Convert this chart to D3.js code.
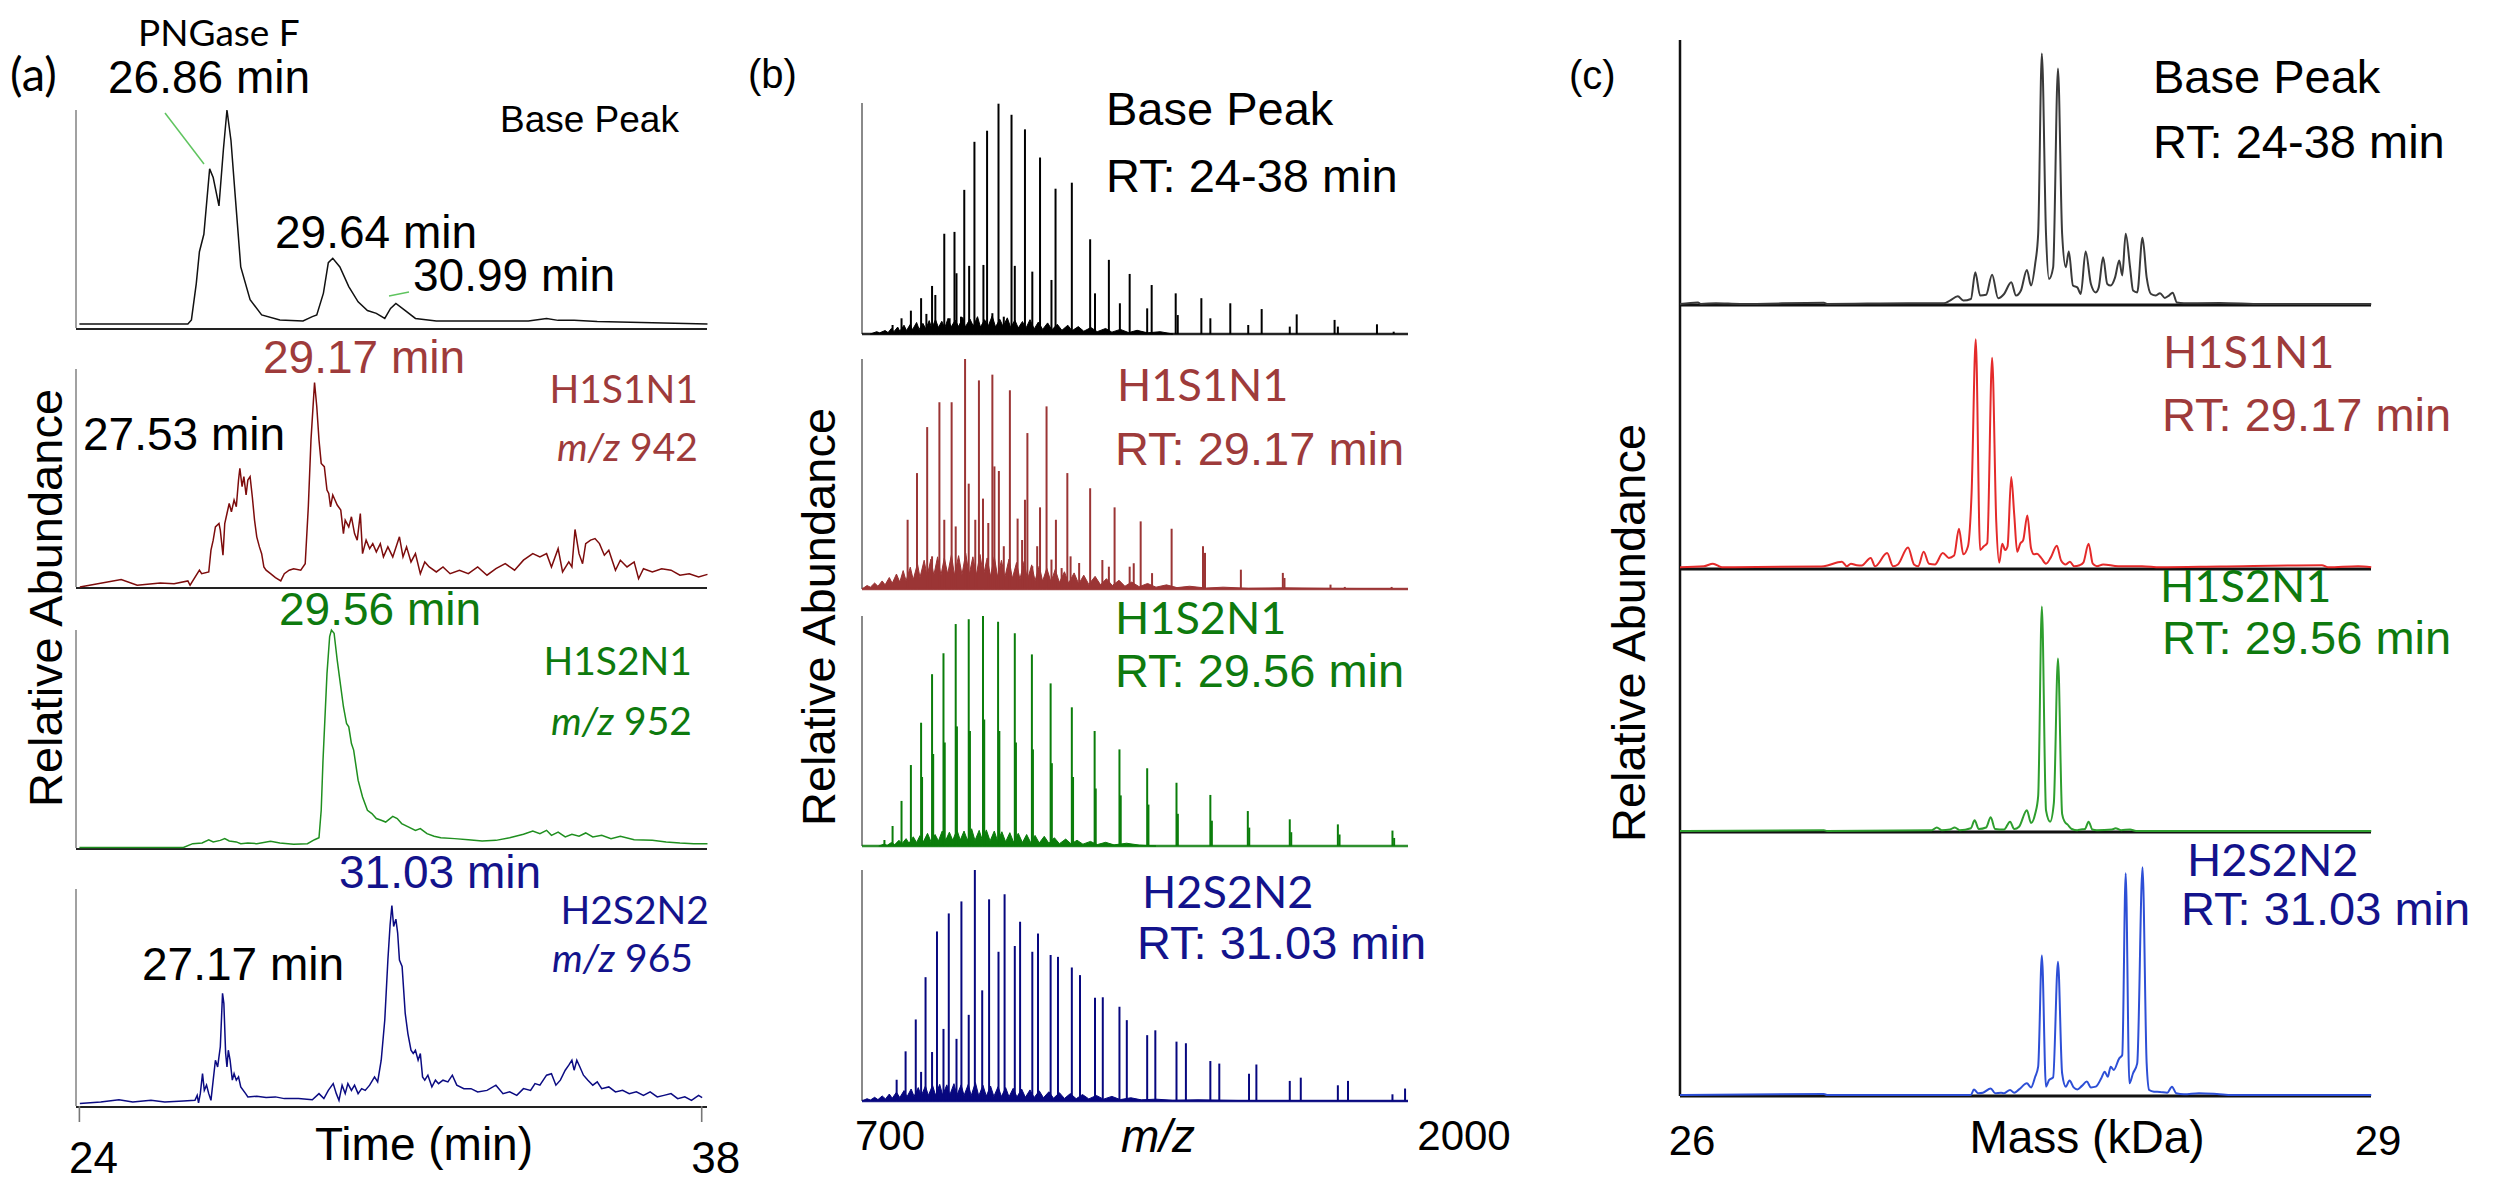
<!DOCTYPE html>
<html>
<head>
<meta charset="utf-8">
<script src="https://cdn.jsdelivr.net/npm/d3@7"></script>
<style>
  body { margin: 0; background: #fff; }
  text { font-family: "Liberation Sans", Arial, sans-serif; }
  .cal { font-family: Lato, "Liberation Sans", sans-serif; }
</style>
</head>
<body>
<svg id="fig"></svg>
<script>
// ---------- data: (a) extracted ion chromatograms [time (min), relative abundance] ----------
const timeTicks = [24, 38];
const chromBase = [[24.00,1.8],[26.44,1.8],[26.52,3.7],[26.63,20.5],[26.70,35],[26.80,43],[26.93,73],[27.01,69],[27.14,56],[27.24,82],[27.32,100],[27.41,86],[27.50,62],[27.63,28],[27.84,13],[28.10,6],[28.51,3.7],[29.03,3.2],[29.24,5.2],[29.34,6],[29.49,16],[29.60,30],[29.70,32],[29.86,28],[30.06,19],[30.27,12],[30.48,8],[30.68,6.7],[30.87,4.4],[31.00,9],[31.12,11.3],[31.31,8.3],[31.56,4.4],[32.03,3.2],[34.10,3.2],[34.51,4.4],[34.77,3.5],[35.13,3.5],[35.65,3],[38.13,1.8]];
const chromH1S1N1 = [[24.01,0],[24.94,3.4],[25.30,0.8],[25.82,1.8],[26.13,1.5],[26.44,2.8],[26.49,0.8],[26.70,7.7],[26.75,6.1],[26.91,6.9],[26.96,16.9],[27.01,21.5],[27.06,27.6],[27.14,29.1],[27.17,26.1],[27.23,14.6],[27.27,29.1],[27.32,33.7],[27.37,38.3],[27.42,34.5],[27.48,39.9],[27.53,36.8],[27.58,49.1],[27.61,54.4],[27.66,46.0],[27.70,50.6],[27.75,42.2],[27.79,49.1],[27.84,50.6],[27.89,41.4],[27.94,30.7],[27.99,23.0],[28.05,18.4],[28.10,15.3],[28.15,9.2],[28.20,7.7],[28.30,6.1],[28.41,4.3],[28.53,2.8],[28.61,6.1],[28.72,7.7],[28.82,8.4],[28.98,7.7],[29.08,10.7],[29.15,36.8],[29.21,67.5],[29.29,93.8],[29.34,82.8],[29.39,67.5],[29.44,56.7],[29.51,55.2],[29.57,44.5],[29.61,42.9],[29.65,36.8],[29.70,42.2],[29.75,39.9],[29.80,37.6],[29.88,35.3],[29.94,24.5],[29.98,30.7],[30.06,27.6],[30.12,32.2],[30.19,24.5],[30.25,21.5],[30.32,33.7],[30.37,15.3],[30.45,21.5],[30.53,17.6],[30.60,19.9],[30.68,16.1],[30.77,19.9],[30.84,13.8],[30.94,18.4],[31.05,13.8],[31.20,23.0],[31.28,13.8],[31.36,18.4],[31.46,11.5],[31.56,15.3],[31.67,6.1],[31.77,11.5],[31.87,9.2],[32.03,6.9],[32.18,9.2],[32.34,6.1],[32.55,7.7],[32.75,6.1],[32.96,9.2],[33.17,5.4],[33.37,8.4],[33.58,10.7],[33.79,7.7],[33.99,12.3],[34.20,15.3],[34.36,13.8],[34.51,15.3],[34.62,9.2],[34.77,17.6],[34.87,6.9],[35.01,11.5],[35.08,9.2],[35.15,26.4],[35.24,15.3],[35.32,10.7],[35.39,19.9],[35.50,21.5],[35.60,22.2],[35.70,19.9],[35.81,14.6],[35.91,16.9],[36.06,7.7],[36.17,12.3],[36.32,9.2],[36.48,11.5],[36.58,3.8],[36.69,8.4],[36.89,6.9],[37.10,8.4],[37.31,7.7],[37.51,5.4],[37.72,6.1],[37.93,4.6],[38.13,5.8]];
const chromH1S2N1 = [[24.00,0.2],[26.34,0.2],[26.55,2.0],[26.76,2.3],[26.91,3.8],[27.01,2.8],[27.17,3.5],[27.27,4.3],[27.37,3.2],[27.53,2.8],[27.63,2.0],[27.79,2.3],[27.99,2.0],[28.30,3.1],[28.51,2.3],[28.82,1.7],[29.13,2.0],[29.29,3.8],[29.39,4.7],[29.44,17.3],[29.48,40],[29.57,80],[29.63,97],[29.67,100],[29.73,98.5],[29.80,86.2],[29.85,78.5],[29.94,64.8],[30.01,57.1],[30.06,55.6],[30.12,47.9],[30.17,44.9],[30.27,31.1],[30.37,23.4],[30.48,17.3],[30.58,15.8],[30.68,13.5],[30.79,12.7],[30.89,11.9],[31.05,14.5],[31.15,13.5],[31.25,11.2],[31.41,9.6],[31.56,8.1],[31.67,8.9],[31.82,6.6],[31.98,5.4],[32.13,4.7],[32.44,4.3],[32.75,3.8],[33.06,3.2],[33.37,3.5],[33.68,4.7],[33.99,6.3],[34.20,7.8],[34.36,6.6],[34.51,8.1],[34.62,5.8],[34.77,7.3],[34.93,5.1],[35.08,6.3],[35.24,5.4],[35.39,6.9],[35.55,5.1],[35.75,5.8],[35.96,4.3],[36.17,5.4],[36.48,3.8],[36.89,3.5],[37.20,2.8],[37.51,2.3],[37.82,2.0],[38.13,2.0]];
const chromH2S2N2 = [[24.01,1.1],[24.48,1.8],[24.89,2.9],[25.20,1.8],[25.61,2.6],[25.92,1.8],[26.34,2.3],[26.60,2.6],[26.65,4.9],[26.68,1.4],[26.72,5.7],[26.77,14.9],[26.81,7.2],[26.86,9.6],[26.91,5.7],[26.96,2.6],[27.01,11.9],[27.06,21.1],[27.11,18.0],[27.17,27.3],[27.22,51.9],[27.25,47.3],[27.29,24.2],[27.32,18.0],[27.35,25.7],[27.39,21.1],[27.44,11.9],[27.48,14.9],[27.53,11.9],[27.58,13.4],[27.63,8.8],[27.74,5.7],[27.79,4.2],[27.99,4.5],[28.20,3.9],[28.41,4.2],[28.61,3.4],[28.93,3.4],[29.24,2.9],[29.39,5.7],[29.50,3.4],[29.60,7.2],[29.71,10.3],[29.78,5.7],[29.84,2.6],[29.91,9.6],[29.98,5.7],[30.04,10.3],[30.12,7.2],[30.19,9.6],[30.27,5.7],[30.35,8.0],[30.43,7.2],[30.53,9.6],[30.64,13.4],[30.71,11.1],[30.79,21.1],[30.87,39.6],[30.94,67.3],[30.99,83.5],[31.03,92.4],[31.07,82.7],[31.12,86.1],[31.16,79.7],[31.20,67.3],[31.26,64.3],[31.33,42.7],[31.39,33.4],[31.46,25.7],[31.51,24.2],[31.56,25.7],[31.62,21.1],[31.67,24.2],[31.72,13.4],[31.77,11.9],[31.84,14.2],[31.93,8.8],[32.01,11.9],[32.08,10.3],[32.18,11.9],[32.29,11.1],[32.39,14.2],[32.49,9.6],[32.65,8.0],[32.81,8.0],[32.96,6.5],[33.17,7.2],[33.37,9.6],[33.53,5.7],[33.68,6.5],[33.84,4.9],[33.99,8.0],[34.15,7.2],[34.25,10.3],[34.36,9.6],[34.51,14.2],[34.62,14.9],[34.72,9.6],[34.82,11.9],[34.93,16.5],[35.01,18.8],[35.08,21.1],[35.13,16.5],[35.19,21.1],[35.26,18.0],[35.34,14.2],[35.44,11.9],[35.55,9.6],[35.65,11.1],[35.75,8.0],[35.91,8.8],[36.06,6.5],[36.22,7.2],[36.37,5.7],[36.53,6.5],[36.69,4.9],[36.84,6.5],[37.00,4.2],[37.15,4.9],[37.31,5.7],[37.46,3.4],[37.62,4.2],[37.77,2.6],[37.93,4.9],[38.01,3.9]];

// ---------- data: (b) mass spectra, peaks [m/z, relative abundance] and baseline clutter ----------
const mzTicks = [700, 2000];
const peaksBase = [[772.8,3.9],[794.1,6.8],[816.4,10.1],[840.7,15.5],[853.3,8.7],[866.8,20.8],[874.6,16.9],[895.9,43.4],[908.6,6.8],[920.2,44.2],[925.0,26.3],[935.7,7.5],[943.5,62.4],[955.1,29.5],[967.7,83.2],[989.1,29.9],[997.8,88.0],[1010.4,9.0],[1025.0,99.7],[1037.6,7.5],[1056.0,94.9],[1063.8,29.5],[1088.0,88.6],[1105.5,27.0],[1123.9,76.4],[1151.1,23.4],[1160.8,62.9],[1199.6,65.5],[1243.2,41.0],[1254.8,17.6],[1287.8,32.1],[1314.0,13.3],[1337.3,26.0],[1379.0,11.1],[1389.7,21.2],[1446.9,17.6],[1451.8,8.2],[1508.0,15.5],[1529.4,6.8],[1576.9,13.3],[1619.6,3.9],[1651.6,10.8],[1718.5,3.2],[1735.0,8.5],[1825.2,6.1],[1833.0,3.2],[1926.1,4.2],[1965.9,1.0]];
const peaksH1S1N1 = [[808.6,30.1],[831.0,50.4],[855.2,70.4],[866.8,14.2],[884.3,81.2],[895.9,30.1],[913.4,81.2],[923.1,27.2],[945.4,100],[954.1,45.8],[969.7,30.1],[978.4,90.7],[988.1,39.3],[1000.7,28.7],[1010.4,93.2],[1015.3,53.3],[1025.9,51.3],[1037.6,18.6],[1052.1,86.4],[1070.5,30.6],[1081.2,21.3],[1088.0,38.8],[1093.8,67.8],[1105.5,9.9],[1117.1,18.6],[1123.9,35.5],[1139.4,79.4],[1151.1,12.8],[1161.7,30.1],[1175.3,9.1],[1188.9,50.4],[1196.6,14.2],[1217.0,11.3],[1243.2,43.8],[1272.3,12.6],[1287.8,9.7],[1301.4,35.5],[1337.3,9.7],[1347.0,11.2],[1363.5,29.4],[1390.6,6.9],[1437.2,26.2],[1511.9,18.6],[1516.7,15.7],[1602.1,8.4],[1702.0,7.0],[1705.9,4.8],[1815.5,1.9],[1849.5,0.9],[1961.0,0.9]];
const peaksH1S2N1 = [[753.4,2.6],[772.8,8.7],[794.1,19.6],[816.4,35.2],[840.7,53.6],[843.0,30.0],[866.8,74.7],[869.5,40.0],[894.0,83.8],[897.0,45.0],[923.1,96.5],[926.0,52.0],[954.1,98.6],[957.0,50.0],[988.1,100],[991.0,55.0],[1024.0,97.5],[1027.0,50.0],[1063.8,92.5],[1066.5,45.0],[1104.5,83.3],[1107.0,42.0],[1149.1,70.7],[1152.0,36.0],[1199.6,60.3],[1202.5,30.0],[1253.9,50.0],[1256.5,25.0],[1313.0,42.0],[1316.0,22.0],[1379.0,33.8],[1382.0,18.0],[1448.8,27.5],[1452.0,14.0],[1529.4,22.2],[1533.0,11.0],[1618.6,15.2],[1622.0,8.0],[1718.5,11.6],[1722.0,6.0],[1833.0,9.4],[1837.0,5.0],[1963.0,6.7],[1967.0,3.5]];
const peaksH2S2N2 = [[782.5,9.2],[803.8,21.5],[828.0,35.3],[840.7,12.6],[851.3,53.6],[866.8,21.2],[878.5,73.4],[894.0,31.2],[906.6,81.2],[925.0,26.9],[936.7,86.4],[954.1,37.3],[968.7,100],[986.2,47.9],[1002.6,87.3],[1025.0,64.6],[1039.5,89.5],[1063.8,67.1],[1076.4,77.6],[1105.5,64.6],[1119.0,72.5],[1149.1,63.2],[1166.6,62.4],[1199.6,57.8],[1219.0,54.5],[1254.8,44.7],[1273.3,44.9],[1313.0,40.8],[1330.5,35.0],[1379.0,28.5],[1398.4,30.6],[1448.8,25.7],[1471.2,25.0],[1529.4,17.3],[1550.7,16.2],[1621.5,11.8],[1639.0,15.8],[1718.5,8.7],[1744.7,10.1],[1833.0,6.8],[1857.2,8.7],[1963.0,2.9],[1993.0,5.4]];
const clutterBase = [[720,0],[735,1],[742,0.5],[755,1.5],[762,0.6],[770,2.4],[776,1],[785,3],[790,1.2],[800,3.8],[806,1.5],[815,4.2],[820,1.8],[830,5],[836,2],[845,4.6],[852,2.2],[860,5.8],[866,2.5],[875,6.2],[882,2.8],[890,5.5],[897,2.6],[905,6.8],[912,3],[922,6],[930,3.2],[940,7.2],[946,3],[957,6.5],[965,3.4],[975,7.5],[982,3],[992,6.2],[1000,3.2],[1010,7.8],[1018,3],[1028,6.4],[1036,3.2],[1046,7],[1054,2.8],[1064,6],[1072,2.6],[1082,5.4],[1090,2.4],[1100,6.2],[1110,2.2],[1120,5.2],[1130,2],[1142,4.8],[1152,1.8],[1165,4.2],[1176,1.6],[1190,3.8],[1200,1.4],[1215,3.2],[1228,1.2],[1245,2.8],[1260,1],[1280,2.4],[1295,0.8],[1315,2],[1335,0.6],[1355,1.6],[1380,0.5],[1410,1],[1440,0]];
const clutterH1S1N1 = [[700,0],[712,1.5],[720,0.8],[730,2.6],[738,1.2],[748,3.5],[755,1.8],[765,5],[772,2.5],[782,6.5],[790,3],[798,8],[805,3.5],[815,9.5],[822,4],[832,11],[838,5],[848,12.5],[855,5.5],[864,13],[871,6],[880,14],[888,6],[896,13.5],[904,6.5],[913,15],[920,6],[930,14.5],[938,6.2],[947,15.5],[955,6],[964,14],[972,6],[981,15],[989,5.8],[998,13.5],[1006,5.5],[1015,14],[1023,5.2],[1032,12.5],[1040,5],[1050,13],[1058,4.6],[1068,11.5],[1076,4.2],[1086,12],[1094,4],[1104,10.5],[1112,3.6],[1122,10],[1130,3.4],[1140,9],[1150,3],[1160,8.5],[1170,2.8],[1182,7.5],[1192,2.5],[1205,7],[1216,2.2],[1228,6],[1240,2],[1255,5.5],[1268,1.8],[1282,4.5],[1296,1.5],[1312,3.8],[1326,1.2],[1342,3],[1360,1],[1380,2.4],[1400,0.8],[1425,1.8],[1450,0.6],[1480,1.2],[1520,0.4],[1560,0.8],[1620,0.3],[1700,0.5],[1800,0.3],[1900,0.2],[2000,0]];
const clutterH1S2N1 = [[740,0],[752,0.8],[760,0.3],[770,1.5],[778,0.6],[788,2.5],[795,1],[805,3.2],[812,1.2],[822,4],[830,1.5],[838,4.5],[846,1.8],[856,5.5],[864,2],[874,5],[882,2.2],[891,6.5],[899,2.4],[908,6],[916,2.5],[926,7],[934,2.6],[943,6.5],[951,2.5],[961,7.5],[969,2.4],[979,6.8],[987,2.3],[996,7],[1005,2.2],[1015,6.5],[1023,2],[1033,6.2],[1042,1.8],[1052,5.8],[1061,1.6],[1072,5.5],[1082,1.5],[1092,5],[1102,1.4],[1112,4.6],[1122,1.3],[1134,4.2],[1145,1.2],[1158,3.6],[1170,1],[1185,3],[1198,0.9],[1212,2.5],[1226,0.8],[1244,2],[1260,0.6],[1280,1.6],[1300,0.5],[1330,1.2],[1360,0.4],[1400,0]];
const clutterH2S2N2 = [[700,0],[712,1],[720,0.4],[730,1.6],[738,0.6],[748,2.2],[756,0.9],[765,3],[772,1.2],[782,3.8],[790,1.5],[800,4.5],[807,1.8],[817,5.2],[824,2],[834,5.8],[841,2.2],[851,6.5],[858,2.4],[868,6.8],[875,2.5],[885,7.2],[892,2.6],[902,7],[909,2.6],[919,7.5],[926,2.5],[936,7],[943,2.4],[953,7.2],[960,2.3],[970,8],[978,2.2],[988,6.8],[996,2.1],[1006,6.5],[1014,2],[1024,6.2],[1032,1.9],[1042,5.8],[1050,1.8],[1060,5.5],[1069,1.7],[1080,5.2],[1089,1.6],[1100,4.8],[1110,1.5],[1122,4.4],[1132,1.4],[1145,4],[1156,1.2],[1170,3.6],[1182,1.1],[1196,3.2],[1210,1],[1225,2.8],[1240,0.9],[1258,2.4],[1275,0.8],[1295,2],[1315,0.6],[1340,1.4],[1365,0.5],[1400,0.8],[1440,0.3],[1500,0.5],[1600,0.2],[1800,0.2],[2000,0]];

// ---------- data: (c) deconvoluted spectra [mass (kDa), relative abundance] ----------
const massTicks = [26, 29];
const deconBase = [[26.000,0],[26.078,0.6],[26.091,0],[26.156,0.3],[26.261,0],[26.625,0.5],[26.638,0],[26.990,0.3],[27.146,0.3],[27.172,1.3],[27.206,2.9],[27.230,1.3],[27.263,1.9],[27.282,12.0],[27.303,3.2],[27.329,3.5],[27.355,11.1],[27.381,2.2],[27.407,3.8],[27.438,8.2],[27.459,3.2],[27.480,5.1],[27.506,12.9],[27.524,7.0],[27.542,15.2],[27.555,26.6],[27.571,94.9],[27.589,26.6],[27.602,9.5],[27.620,13.9],[27.641,89.2],[27.659,26.6],[27.675,13.9],[27.688,19.9],[27.706,7.0],[27.725,6.3],[27.740,3.8],[27.761,19.9],[27.784,7.6],[27.805,4.4],[27.818,6.3],[27.837,17.7],[27.855,7.6],[27.870,7.0],[27.889,10.1],[27.907,16.5],[27.920,10.8],[27.935,26.6],[27.954,13.9],[27.967,5.1],[27.985,4.4],[28.008,25.1],[28.026,10.1],[28.045,3.8],[28.066,3.2],[28.084,4.1],[28.105,2.3],[28.123,3.2],[28.139,4.3],[28.157,0.6],[28.188,0.3],[28.344,0.4],[28.527,0],[29.001,0]];
const deconH1S1N1 = [[26.000,0.3],[26.104,0.7],[26.143,1.7],[26.182,0.3],[26.234,0.3],[26.599,0.6],[26.625,0.7],[26.703,2.5],[26.724,0.7],[26.742,1.7],[26.768,1.1],[26.789,1.0],[26.828,4.0],[26.847,0.7],[26.899,5.9],[26.925,0.7],[26.946,1.4],[26.990,8.1],[27.016,1.4],[27.034,0.7],[27.058,6.4],[27.081,1.7],[27.107,1.4],[27.141,5.9],[27.167,4.0],[27.190,4.9],[27.211,15.5],[27.230,5.4],[27.250,8.5],[27.266,29.7],[27.284,90.4],[27.303,7.1],[27.318,8.5],[27.334,9.9],[27.355,83.1],[27.373,18.4],[27.386,2.1],[27.399,9.6],[27.412,7.1],[27.422,8.5],[27.438,36.0],[27.451,21.2],[27.464,6.4],[27.477,9.6],[27.490,11.0],[27.508,20.8],[27.524,7.8],[27.537,5.4],[27.550,5.6],[27.568,4.0],[27.589,1.7],[27.610,4.2],[27.636,8.8],[27.654,3.1],[27.675,1.4],[27.693,2.5],[27.711,0.7],[27.735,1.1],[27.751,2.1],[27.774,9.6],[27.792,1.7],[27.810,0.7],[27.837,1.4],[27.902,0.7],[28.006,0.7],[28.084,0.3],[28.344,0.6],[28.787,1.1],[28.813,0.3],[28.944,0.7],[29.001,0.3]];
const deconH1S2N1 = [[26.000,0],[26.625,0.3],[26.638,0],[27.094,0.3],[27.115,1.4],[27.136,0.3],[27.172,0.6],[27.193,1.4],[27.214,0.3],[27.263,1.1],[27.279,4.2],[27.297,0.8],[27.329,1.4],[27.349,5.4],[27.368,0.8],[27.407,0.6],[27.433,3.7],[27.451,0.8],[27.472,1.7],[27.506,8.2],[27.524,3.2],[27.542,6.8],[27.555,13.8],[27.571,88.7],[27.589,8.2],[27.607,3.7],[27.623,11.0],[27.641,68.2],[27.659,6.8],[27.670,3.7],[27.683,2.5],[27.701,0.8],[27.725,0.3],[27.740,0.6],[27.758,0.8],[27.774,3.7],[27.790,0.6],[27.810,0.3],[27.876,0.6],[27.891,1.1],[27.915,0.3],[27.954,0.6],[27.980,0],[29.001,0]];
const deconH2S2N2 = [[26.000,0],[26.625,0.4],[26.638,0],[27.263,0],[27.276,2.2],[27.295,0.7],[27.315,0.9],[27.349,2.6],[27.368,0.7],[27.394,0.9],[27.407,0.7],[27.433,2.0],[27.451,0.9],[27.472,2.2],[27.506,4.6],[27.524,3.0],[27.542,7.2],[27.555,11.2],[27.571,55.1],[27.589,3.3],[27.602,5.9],[27.620,7.0],[27.641,52.7],[27.659,8.6],[27.675,3.3],[27.691,5.7],[27.709,3.0],[27.725,2.2],[27.745,3.6],[27.766,5.3],[27.784,3.0],[27.805,3.3],[27.829,6.6],[27.844,9.2],[27.857,7.2],[27.870,11.2],[27.883,9.9],[27.907,14.5],[27.920,15.8],[27.935,87.6],[27.951,4.6],[27.967,8.6],[27.985,12.5],[28.008,90.0],[28.026,12.5],[28.037,2.0],[28.058,1.3],[28.084,1.2],[28.115,0.9],[28.136,3.3],[28.154,0.7],[28.188,0.3],[28.253,0.7],[28.331,0.4],[28.397,0],[29.001,0]];

const W = 2501, H = 1181;
const svg = d3.select("#fig").attr("width", W).attr("height", H);
svg.append("rect").attr("width", W).attr("height", H).attr("fill", "#fff");

function label(x, y, txt, opt) {
  opt = opt || {};
  var t = svg.append("text")
    .attr("x", x).attr("y", y)
    .attr("font-size", (opt.size || 46) + "px")
    .attr("fill", opt.color || "#000")
    .attr("text-anchor", opt.anchor || "start")
    .text(txt);
  if (opt.cal) t.attr("class", "cal");
  return t;
}
// "m/z 942" style label, m/z in italics
function mzLabel(x, y, num, color, size) {
  var t = svg.append("text").attr("class", "cal")
    .attr("x", x).attr("y", y).attr("font-size", size + "px")
    .attr("fill", color).attr("text-anchor", "end");
  t.append("tspan").attr("font-style", "italic").text("m/z");
  t.append("tspan").text(" " + num);
}
function yTitle(x, y) {
  svg.append("text")
    .attr("transform", "translate(" + x + "," + y + ") rotate(-90)")
    .attr("text-anchor", "middle").attr("font-size", "47px")
    .text("Relative Abundance");
}

// ================= (a) chromatograms =================
var xTime = d3.scaleLinear().domain([24, 38]).range([79.4, 701.7]);
var aTraces = [
  { data: chromBase,   color: "#111",    base: 328,  top: 110 },
  { data: chromH1S1N1, color: "#7d0c0c", base: 587,  top: 369 },
  { data: chromH1S2N1, color: "#1f8f1f", base: 848,  top: 630 },
  { data: chromH2S2N2, color: "#0b0b82", base: 1106, top: 889 }
];
aTraces.forEach(function (tr) {
  var y = d3.scaleLinear().domain([0, 100]).range([tr.base, tr.top]);
  var g = svg.append("g");
  g.append("line").attr("x1", 76).attr("x2", 76).attr("y1", tr.top).attr("y2", tr.base)
    .attr("stroke", "#8a8a8a").attr("stroke-width", 1.6);
  g.append("line").attr("x1", 76).attr("x2", 707).attr("y1", tr.base + 1).attr("y2", tr.base + 1)
    .attr("stroke", "#222").attr("stroke-width", 2);
  g.append("path").datum(tr.data)
    .attr("d", d3.line().x(d => xTime(d[0])).y(d => y(d[1])))
    .attr("fill", "none").attr("stroke", tr.color).attr("stroke-width", 1.5);
});
// time axis ticks
svg.append("g").selectAll("line").data(timeTicks).join("line")
  .attr("x1", d => xTime(d)).attr("x2", d => xTime(d))
  .attr("y1", 1106).attr("y2", 1122).attr("stroke", "#777").attr("stroke-width", 1.6);
svg.append("g").selectAll("text").data(timeTicks).join("text")
  .attr("x", d => xTime(d) + 14).attr("y", 1173)
  .attr("text-anchor", "middle").attr("font-size", "44px").text(d => d);
label(424, 1160, "Time (min)", { anchor: "middle", size: 46 });
yTitle(62, 598);
label(10, 91, "(a)", { size: 47, cal: true });
label(138, 46, "PNGase F", { size: 37, cal: true });
label(108, 93, "26.86 min");
label(500, 132, "Base Peak", { size: 37 });
label(275, 248, "29.64 min");
label(413, 291, "30.99 min");
svg.append("line").attr("x1", 165).attr("y1", 113).attr("x2", 204).attr("y2", 164)
  .attr("stroke", "#5fc45f").attr("stroke-width", 1.5);
svg.append("line").attr("x1", 389).attr("y1", 296).attr("x2", 409).attr("y2", 292)
  .attr("stroke", "#5fc45f").attr("stroke-width", 1.5);
label(263, 373, "29.17 min", { color: "#9e3b3b" });
label(698, 403, "H1S1N1", { anchor: "end", size: 39, color: "#9e3b3b", cal: true });
mzLabel(698, 461, "942", "#9e3b3b", 39);
label(83, 450, "27.53 min");
label(279, 625, "29.56 min", { color: "#0e7a0e" });
label(692, 675, "H1S2N1", { anchor: "end", size: 39, color: "#0e7a0e", cal: true });
mzLabel(692, 735, "952", "#0e7a0e", 39);
label(339, 888, "31.03 min", { color: "#13138c" });
label(709, 924, "H2S2N2", { anchor: "end", size: 39, color: "#13138c", cal: true });
mzLabel(693, 972, "965", "#13138c", 39);
label(142, 980, "27.17 min");

// ================= (b) mass spectra =================
var xMz = d3.scaleLinear().domain([700, 2000]).range([862, 1408]);
var bTraces = [
  { peaks: peaksBase,   clutter: clutterBase,   color: "#000",    base: 334,  top: 103 },
  { peaks: peaksH1S1N1, clutter: clutterH1S1N1, color: "#9b3535", base: 589,  top: 359 },
  { peaks: peaksH1S2N1, clutter: clutterH1S2N1, color: "#0b7d0b", base: 846,  top: 616 },
  { peaks: peaksH2S2N2, clutter: clutterH2S2N2, color: "#07077f", base: 1101, top: 870 }
];
bTraces.forEach(function (tr) {
  var y = d3.scaleLinear().domain([0, 100]).range([tr.base, tr.top]);
  var g = svg.append("g");
  g.append("line").attr("x1", 862).attr("x2", 862).attr("y1", tr.top).attr("y2", tr.base)
    .attr("stroke", "#8a8a8a").attr("stroke-width", 2);
  g.append("path").datum(tr.clutter)
    .attr("d", d3.area().x(d => xMz(d[0])).y0(y(0)).y1(d => y(d[1])))
    .attr("fill", tr.color).attr("stroke", tr.color).attr("stroke-width", 1);
  g.selectAll(".pk").data(tr.peaks).join("line").attr("class", "pk")
    .attr("x1", d => xMz(d[0])).attr("x2", d => xMz(d[0]))
    .attr("y1", y(0)).attr("y2", d => y(d[1]))
    .attr("stroke", tr.color).attr("stroke-width", 2);
  g.append("line").attr("x1", 862).attr("x2", 1408).attr("y1", tr.base).attr("y2", tr.base)
    .attr("stroke", tr.color).attr("stroke-width", 2.5).attr("opacity", 0.85);
});
svg.append("g").selectAll("text").data(mzTicks).join("text")
  .attr("x", (d, i) => xMz(d) + (i ? 56 : 28)).attr("y", 1150)
  .attr("text-anchor", "middle").attr("font-size", "42px").text(d => d);
label(1158, 1152, "m/z", { anchor: "middle", size: 46 }).attr("font-style", "italic");
yTitle(835, 617);
label(748, 88, "(b)", { size: 40 });
label(1106, 125, "Base Peak", { size: 47 });
label(1106, 192, "RT: 24-38 min", { size: 47 });
label(1117, 401, "H1S1N1", { size: 45, color: "#9e3b3b", cal: true });
label(1115, 465, "RT: 29.17 min", { size: 47, color: "#9e3b3b" });
label(1115, 634, "H1S2N1", { size: 45, color: "#0e7a0e", cal: true });
label(1115, 687, "RT: 29.56 min", { size: 47, color: "#0e7a0e" });
label(1142, 908, "H2S2N2", { size: 45, color: "#13138c", cal: true });
label(1137, 959, "RT: 31.03 min", { size: 47, color: "#13138c" });

// ================= (c) deconvoluted mass =================
var xMass = d3.scaleLinear().domain([26, 29]).range([1680, 2371]);
var cTraces = [
  { data: deconBase,   color: "#3a3a3a", base: 304,  h: 264 },
  { data: deconH1S1N1, color: "#e42a2a", base: 568,  h: 253 },
  { data: deconH1S2N1, color: "#2e9e2e", base: 831,  h: 253 },
  { data: deconH2S2N2, color: "#2d4fd6", base: 1095, h: 253 }
];
svg.append("line").attr("x1", 1680).attr("x2", 1680).attr("y1", 40).attr("y2", 1096)
  .attr("stroke", "#111").attr("stroke-width", 2.5);
cTraces.forEach(function (tr) {
  var y = d3.scaleLinear().domain([0, 100]).range([tr.base, tr.base - tr.h]);
  var g = svg.append("g");
  g.append("line").attr("x1", 1680).attr("x2", 2371).attr("y1", tr.base + 1).attr("y2", tr.base + 1)
    .attr("stroke", "#111").attr("stroke-width", 3);
  g.append("path").datum(tr.data)
    .attr("d", d3.line().curve(d3.curveMonotoneX).x(d => xMass(d[0])).y(d => y(d[1])))
    .attr("fill", "none").attr("stroke", tr.color).attr("stroke-width", 2);
});
svg.append("g").selectAll("text").data(massTicks).join("text")
  .attr("x", (d, i) => xMass(d) + (i ? 7 : 12)).attr("y", 1155)
  .attr("text-anchor", "middle").attr("font-size", "42px").text(d => d);
label(2087, 1153, "Mass (kDa)", { anchor: "middle", size: 46 });
yTitle(1645, 633);
label(1569, 89, "(c)", { size: 40 });
label(2153, 93, "Base Peak", { size: 47 });
label(2153, 158, "RT: 24-38 min", { size: 47 });
label(2163, 368, "H1S1N1", { size: 45, color: "#9e3b3b", cal: true });
label(2162, 431, "RT: 29.17 min", { size: 47, color: "#9e3b3b" });
label(2160, 602, "H1S2N1", { size: 45, color: "#0e7a0e", cal: true });
label(2162, 654, "RT: 29.56 min", { size: 47, color: "#0e7a0e" });
label(2187, 876, "H2S2N2", { size: 45, color: "#13138c", cal: true });
label(2181, 925, "RT: 31.03 min", { size: 47, color: "#13138c" });
</script>
</body>
</html>
